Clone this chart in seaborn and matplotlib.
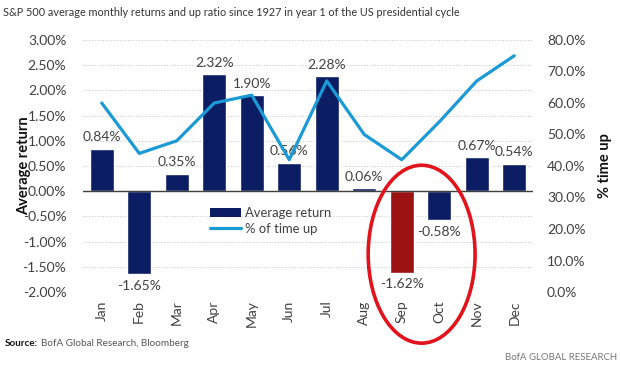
import matplotlib
matplotlib.use("Agg")
import matplotlib.pyplot as plt
from matplotlib.patches import Ellipse, Patch
from matplotlib.lines import Line2D
import numpy as np
import pandas as pd
import seaborn as sns

months = ["Jan", "Feb", "Mar", "Apr", "May", "Jun", "Jul", "Aug", "Sep", "Oct", "Nov", "Dec"]
avg_return = [0.84, -1.65, 0.35, 2.32, 1.90, 0.56, 2.28, 0.06, -1.62, -0.58, 0.67, 0.54]
pct_up = [60.0, 44.0, 48.0, 60.0, 62.5, 42.0, 67.0, 50.0, 42.0, 54.0, 67.0, 75.0]
highlight = "Sep"

NAVY = "#0b1e63"
DARKRED = "#9c1111"
LINE = "#1b9ad6"
GRAY = "#404040"
FONT = ["Lato", "DejaVu Sans"]

sns.set_theme(style="white")
plt.rcParams["font.family"] = FONT

df = pd.DataFrame({"month": months, "ret": avg_return, "up": pct_up})
df["idx"] = np.arange(len(months))
colors = [DARKRED if m == highlight else NAVY for m in months]

fig = plt.figure(figsize=(6.2, 3.71), dpi=100)
ax = fig.add_axes([83 / 620, 1 - 292 / 371, 450 / 620, 252 / 371])

sns.barplot(data=df, x="month", y="ret", hue="month", palette=colors,
            legend=False, width=0.65, ax=ax, saturation=1, dodge=False)
for c in ax.containers:
    ax.bar_label(c, labels=[f"{v:.2f}%" for v in c.datavalues], padding=4,
                 fontsize=10, color=GRAY)

ax.set_ylim(-2.0, 3.0)
ax.set_xlim(-0.5, len(months) - 0.5)
yt = np.arange(-2.0, 3.01, 0.5)
ax.set_yticks(yt)
ax.set_yticklabels([f"{v:.2f}%" for v in yt], fontsize=10, color=GRAY)
ax.yaxis.grid(True, linestyle=(0, (1, 1.5)), color="#cccccc", linewidth=0.8)
ax.set_axisbelow(True)
ax.axhline(0, color=GRAY, linewidth=1.0, zorder=3)
for s in ax.spines.values():
    s.set_visible(False)
ax.tick_params(axis="both", length=0)
ax.tick_params(axis="y", pad=12)
ax.tick_params(axis="x", pad=6)
plt.setp(ax.get_xticklabels(), rotation=90, fontsize=10, color=GRAY)
ax.set_xlabel("")
ax.set_ylabel("Average return", fontsize=10.5, fontweight="bold", color="#111111")
ax.yaxis.set_label_coords(-0.116, 0.5)

ax2 = ax.twinx()
sns.lineplot(data=df, x="idx", y="up", color=LINE, linewidth=2.3, ax=ax2)
ax2.set_ylim(0, 80)
rt = np.arange(0, 80.1, 10)
ax2.set_yticks(rt)
ax2.set_yticklabels([f"{v:.1f}%" for v in rt], fontsize=10, color=GRAY)
for s in ax2.spines.values():
    s.set_visible(False)
ax2.tick_params(axis="y", length=0, pad=10)
ax2.set_ylabel("% time up", fontsize=10.5, fontweight="bold", color="#111111")
ax2.yaxis.set_label_coords(1.144, 0.5)
ax2.set_xlabel("")
ax.set_xlim(-0.5, len(months) - 0.5)

handles = [Patch(facecolor=NAVY, edgecolor="none"), Line2D([0], [0], color=LINE, linewidth=2.3)]
leg = ax.legend(handles, ["Average return", "% of time up"], loc="upper left",
                bbox_to_anchor=(0.255, 0.385), frameon=False, fontsize=9.4,
                handlelength=2.4, handletextpad=0.3, labelspacing=0.3)
for t in leg.get_texts():
    t.set_color(GRAY)

sep_i = months.index("Sep")
ell = Ellipse((sep_i + 0.53, -1.25), width=2.85, height=3.53, fill=False,
              edgecolor="#e3131b", linewidth=2.6, clip_on=False, zorder=6,
              transform=ax.transData)
ax.add_patch(ell)

fig.text(3 / 620, 1 - 12 / 371,
         "S&P 500 average monthly returns and up ratio since 1927 in year 1 of the US presidential cycle",
         fontsize=7.85, color="#333333", va="center", ha="left")
fig.text(5 / 620, 1 - 343 / 371, "Source:", fontsize=7.1, fontweight="bold",
         color="#111111", va="center", ha="left")
fig.text(41 / 620, 1 - 343 / 371, "BofA Global Research, Bloomberg", fontsize=7.1,
         color="#555555", va="center", ha="left")
fig.text(617 / 620, 1 - 357 / 371, "BofA GLOBAL RESEARCH", fontsize=6.9,
         color="#777777", va="center", ha="right")

fig.savefig("out.png", dpi=100)
